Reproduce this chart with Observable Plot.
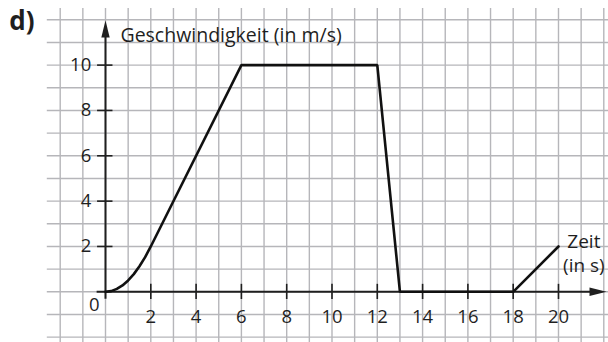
<!DOCTYPE html>
<html>
<head>
<meta charset="utf-8">
<script src="https://cdn.jsdelivr.net/npm/d3@7"></script>
<script src="https://cdn.jsdelivr.net/npm/@observablehq/plot@0.6"></script>
<style>
  html, body { margin: 0; padding: 0; background: #fff; }
  #chart svg { display: block; }
</style>
</head>
<body>
<div id="chart"></div>
<script>
// Data
const zeit = [0, 0.25, 0.5, 0.75, 1, 1.25, 1.5, 1.75, 2, 6, 12, 13, 18, 20];
const geschwindigkeit = [0, 0.03, 0.13, 0.28, 0.5, 0.78, 1.13, 1.53, 2, 10, 10, 0, 0, 2];

const xTicks = [2, 4, 6, 8, 10, 12, 14, 16, 18, 20];
const yTicks = [2, 4, 6, 8, 10];
const gridX = [-2,-1,0,1,2,3,4,5,6,7,8,9,10,11,12,13,14,15,16,17,18,19,20,21,22];
const gridY = [-2,-1,0,1,2,3,4,5,6,7,8,9,10,11,12];

const yLabel = "Geschwindigkeit (in m/s)";
const xLabel = "Zeit\n(in s)";
const partLabel = "d)";

const points = zeit.map((t, i) => ({t, v: geschwindigkeit[i]}));

const ink = "#1f1f1f";
const gridColor = "#b6b6ba";

// filled narrow arrowhead symbol, tip at origin pointing right
const arrowHead = {
  draw(ctx) {
    ctx.moveTo(0, 0);
    ctx.lineTo(-17, -4.2);
    ctx.lineTo(-17, 4.2);
    ctx.closePath();
  }
};

const chart = Plot.plot({
  width: 608,
  height: 342,
  margin: 0,
  x: {domain: [-4.636, 22.208], axis: null},
  y: {domain: [-2.236, 12.85], axis: null},
  style: {fontFamily: "'Open Sans', sans-serif", background: "#fff", color: ink},
  marks: [
    // grid
    Plot.ruleX(gridX, {x: d => d, y1: -2.3, y2: 12.5, stroke: gridColor, strokeWidth: 1.4}),
    Plot.ruleY(gridY, {y: d => d, x1: -2.57, x2: 22.3, stroke: gridColor, strokeWidth: 1.4}),
    // axes
    Plot.ruleY([0], {x1: -0.37, x2: 21.6, stroke: ink, strokeWidth: 2}),
    Plot.ruleX([0], {y1: -0.33, y2: 11.5, stroke: ink, strokeWidth: 2}),
    Plot.dot([{x: 22.12, y: 0}], {x: "x", y: "y", symbol: arrowHead, fill: ink, stroke: "none"}),
    Plot.dot([{x: 0, y: 11.97}], {x: "x", y: "y", symbol: arrowHead, rotate: -90, fill: ink, stroke: "none"}),
    // ticks
    Plot.ruleY(yTicks, {y: d => d, x1: -0.35, x2: 0.33, stroke: ink, strokeWidth: 1.6}),
    Plot.ruleX(xTicks, {x: d => d, y1: -0.34, y2: 0.33, stroke: ink, strokeWidth: 1.6}),
    // tick labels
    Plot.text(yTicks, {x: -0.63, y: d => d, text: d => String(d), textAnchor: "end", fontSize: 18.5, fill: ink}),
    Plot.text(xTicks, {x: d => d, y: -1.13, text: d => String(d), fontSize: 18.5, fill: ink}),
    Plot.text([0], {x: -0.49, y: -0.6, text: d => String(d), fontSize: 18.5, fill: ink}),
    // data line
    Plot.line(points, {x: "t", y: "v", stroke: "#111", strokeWidth: 2.6, strokeLinejoin: "miter"}),
    // labels
    Plot.text([yLabel], {x: 0.66, y: 11.3, text: d => d, textAnchor: "start", fontSize: 19.5, fill: ink}),
    Plot.text([xLabel], {x: 21.12, y: 1.75, text: d => d, textAnchor: "middle", fontSize: 19, lineHeight: 1.25, fill: ink}),
    Plot.text([partLabel], {x: -3.69, y: 11.9, text: d => d, fontSize: 26, fontWeight: "bold", fill: ink})
  ]
});
document.getElementById("chart").appendChild(chart);
</script>
</body>
</html>
